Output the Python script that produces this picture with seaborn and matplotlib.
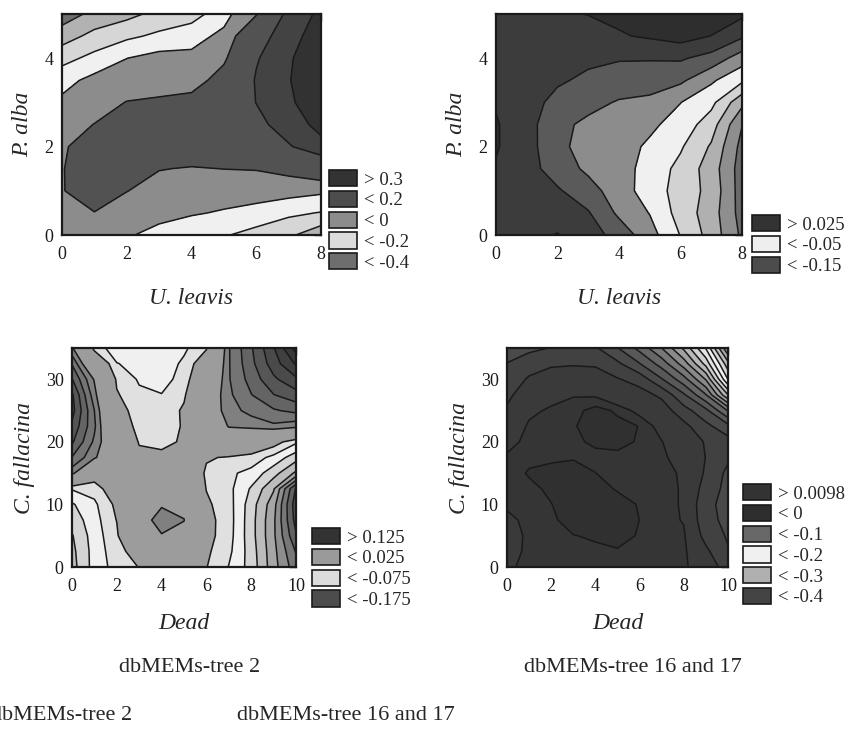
import numpy as np
import matplotlib
matplotlib.use("Agg")
import matplotlib.pyplot as plt
from matplotlib.patches import Patch
from matplotlib.ticker import MultipleLocator
import seaborn as sns

sns.set_theme(style="white")
plt.rcParams["font.family"] = ["Liberation Serif", "DejaVu Serif"]
plt.rcParams["contour.negative_linestyle"] = "solid"

# grid coordinates
ul_x = [0, 1, 2, 3, 4, 5, 6, 7, 8]                       # U. leavis
pa_y = [0, 0.5, 1, 1.5, 2, 2.5, 3, 3.5, 4, 4.5, 5]       # P. alba
dead_x = [0, 1, 2, 3, 4, 5, 6, 7, 8, 9, 10]              # Dead
cf_y = [0, 2.5, 5, 7.5, 10, 12.5, 15, 17.5, 20, 22.5, 25, 27.5, 30, 32.5, 35]  # C. fallacina

# surface values, one list per x column (bottom -> top)
tree2_a = [
    [-0.05, -0.03, -0.01, -0.01, -0.02, -0.04, -0.08, -0.135, -0.235, -0.346, -0.457],
    [-0.06, -0.005, 0.1, 0.12, 0.08, 0.002, -0.04, -0.07, -0.17, -0.27, -0.37],
    [-0.09, -0.04, 0.002, 0.06, 0.1, 0.07, 0.003, -0.05, -0.101, -0.22, -0.33],
    [-0.13, -0.07, -0.03, 0.003, 0.07, 0.08, 0.01, -0.03, -0.065, -0.18, -0.27],
    [-0.17, -0.09, -0.05, -0.005, 0.05, 0.08, 0.04, -0.05, -0.08, -0.13, -0.25],
    [-0.19, -0.11, -0.05, 0.001, 0.06, 0.1, 0.1, 0.05, -0.02, -0.08, -0.13],
    [-0.24, -0.13, -0.06, 0.005, 0.1, 0.17, 0.202, 0.21, 0.19, 0.14, -0.01],
    [-0.28, -0.18, -0.06, 0.03, 0.19, 0.25, 0.285, 0.295, 0.29, 0.27, 0.24],
    [-0.37, -0.205, -0.08, 0.09, 0.27, 0.33, 0.36, 0.37, 0.36, 0.34, 0.32],
]
tree1617_a = [
    [0.018, 0.02, 0.021, 0.023, 0.027, 0.027, 0.023, 0.021, 0.02, 0.02, 0.021],
    [0.02, 0.016, 0.012, 0.01, 0.01, 0.01, 0.012, 0.016, 0.019, 0.021, 0.023],
    [0.026, 0.015, 0.003, -0.012, -0.0186, -0.019, -0.009, 0.004, 0.012, 0.018, 0.023],
    [0.012, 0.002, -0.015, -0.03, -0.035, -0.03, -0.018, -0.006, 0.006, 0.017, 0.0255],
    [-0.01, -0.03, -0.038, -0.039, -0.04, -0.04, -0.027, -0.012, 0.002, 0.023, 0.03],
    [-0.04, -0.051, -0.062, -0.06, -0.054, -0.045, -0.03, -0.015, 0.002, 0.028, 0.034],
    [-0.076, -0.085, -0.085, -0.082, -0.072, -0.06, -0.0495, -0.02, 0.003, 0.035, 0.038],
    [-0.11, -0.113, -0.108, -0.112, -0.103, -0.088, -0.068, -0.046, -0.009, 0.0245, 0.04],
    [-0.155, -0.16, -0.162, -0.162, -0.158, -0.149, -0.118, -0.07, -0.038, 0.004, 0.03],
]
tree2_b = [
    [-0.16, -0.157, -0.152, -0.14, -0.128, -0.098, 0.035, 0.074, 0.104, 0.12, 0.135, 0.13, 0.102, 0.073, 0.03],
    [-0.115, -0.115, -0.113, -0.11, -0.105, -0.09, -0.055, 0.03, 0.045, 0.055, 0.05, 0.035, 0.022, -0.03, -0.085],
    [-0.09, -0.085, -0.08, -0.074, -0.068, -0.05, -0.03, -0.02, -0.02, -0.05, -0.06, -0.072, -0.08, -0.099, -0.115],
    [-0.074, -0.06, 0.0, 0.0, 0.002, -0.035, -0.045, -0.065, -0.078, -0.085, -0.09, -0.095, -0.103, -0.108, -0.11],
    [-0.04, -0.01, 0.022, 0.045, 0.02, -0.01, -0.04, -0.065, -0.085, -0.09, -0.095, -0.099, -0.11, -0.115, -0.118],
    [-0.06, -0.045, 0.012, 0.026, 0.014, -0.02, -0.035, -0.045, -0.07, -0.072, -0.07, -0.08, -0.09, -0.095, -0.105],
    [-0.074, -0.07, -0.065, -0.065, -0.07, -0.076, -0.08, -0.072, -0.05, -0.03, -0.005, -0.01, -0.03, -0.05, -0.078],
    [-0.101, -0.094, -0.09, -0.089, -0.09, -0.093, -0.095, -0.078, -0.02, 0.028, 0.04, 0.045, 0.048, 0.048, 0.048],
    [-0.135, -0.137, -0.14, -0.14, -0.138, -0.128, -0.108, -0.085, -0.04, 0.035, 0.058, 0.074, 0.085, 0.093, 0.097],
    [-0.19, -0.192, -0.195, -0.195, -0.19, -0.172, -0.14, -0.108, -0.06, 0.045, 0.072, 0.099, 0.12, 0.138, 0.148],
    [-0.24, -0.252, -0.272, -0.285, -0.29, -0.278, -0.18, -0.14, -0.095, 0.035, 0.082, 0.115, 0.145, 0.178, 0.21],
]
tree1617_b = [
    [-0.002, -0.004, -0.005, -0.003, 0.002, 0.004, 0.004, 0.002, -0.005, -0.012, -0.022, -0.03, -0.04, -0.0495, -0.058],
    [0.003, 0.002, 0.002, 0.003, 0.005, 0.007, 0.011, 0.007, 0.004, 0.002, -0.003, -0.012, -0.022, -0.036, -0.056],
    [0.004, 0.005, 0.006, 0.008, 0.0095, 0.012, 0.013, 0.008, 0.006, 0.005, 0.002, -0.005, -0.015, -0.028, -0.049],
    [0.005, 0.007, 0.0095, 0.014, 0.016, 0.016, 0.014, 0.009, 0.0085, 0.009, 0.006, -0.001, -0.012, -0.027, -0.045],
    [0.006, 0.008, 0.011, 0.016, 0.017, 0.014, 0.0099, 0.008, 0.011, 0.014, 0.014, -0.002, -0.014, -0.028, -0.047],
    [0.007, 0.009, 0.013, 0.016, 0.014, 0.0088, 0.007, 0.008, 0.012, 0.013, 0.008, -0.015, -0.023, -0.045, -0.074],
    [0.006, 0.007, 0.009, 0.0097, 0.009, 0.007, 0.006, 0.006, 0.009, 0.0095, -0.005, -0.015, -0.035, -0.074, -0.108],
    [0.005, 0.005, 0.005, 0.005, 0.006, 0.006, 0.006, 0.003, 0.0005, -0.006, -0.012, -0.03, -0.073, -0.111, -0.15],
    [0.003, 0.003, 0.002, -0.001, -0.002, -0.002, -0.003, -0.008, -0.01, -0.018, -0.04, -0.071, -0.115, -0.162, -0.205],
    [-0.012, -0.02, -0.033, -0.04, -0.042, -0.035, -0.028, -0.0255, -0.027, -0.043, -0.068, -0.123, -0.177, -0.234, -0.277],
    [-0.035, -0.048, -0.053, -0.058, -0.06, -0.058, -0.056, -0.046, -0.04, -0.067, -0.127, -0.225, -0.301, -0.342, -0.4],
]

# contour levels and grey fills (low -> high)
lev_a = [-0.6, -0.4, -0.3, -0.2, -0.1, 0.0, 0.2, 0.3, 0.5]
grey_a = ["#6e6e6e", "#b2b2b2", "#d6d6d6", "#f0f0f0", "#8c8c8c", "#525252", "#434343", "#323232"]
lev_b = [-0.2, -0.15, -0.125, -0.1, -0.075, -0.05, -0.025, 0.0, 0.025, 0.1]
grey_b = ["#6a6a6a", "#8e8e8e", "#b0b0b0", "#d2d2d2", "#f0f0f0", "#8c8c8c", "#5a5a5a", "#3c3c3c", "#2e2e2e"]
lev_c = [-0.35, -0.275, -0.25, -0.225, -0.2, -0.175, -0.15, -0.125, -0.1, -0.075,
         0.025, 0.05, 0.075, 0.1, 0.125, 0.15, 0.175, 0.2, 0.3]
grey_c = ["#505050", "#626262", "#777777", "#8e8e8e", "#a6a6a6", "#bcbcbc", "#d4d4d4", "#f0f0f0",
          "#e0e0e0", "#9c9c9c", "#808080", "#747474", "#646464", "#565656", "#4a4a4a", "#404040",
          "#383838", "#303030"]
lev_d = [-0.45, -0.4, -0.375, -0.35, -0.325, -0.3, -0.275, -0.25, -0.225, -0.2, -0.175, -0.15,
         -0.125, -0.1, -0.075, -0.05, -0.025, 0.0, 0.0098, 0.05]
grey_d = ["#8a8a8a", "#969696", "#a8a8a8", "#bebebe", "#d6d6d6", "#f2f2f2", "#e6e6e6", "#d0d0d0",
          "#b8b8b8", "#a0a0a0", "#8a8a8a", "#777777", "#666666", "#585858", "#4a4a4a", "#414141",
          "#3a3a3a", "#353535", "#303030"]

# legend entries as printed next to each map
leg_a = ["> 0.3", "< 0.2", "< 0", "< -0.2", "< -0.4"]
leg_a_col = ["#333333", "#4d4d4d", "#8c8c8c", "#dcdcdc", "#6e6e6e"]
leg_b = ["> 0.025", "< -0.05", "< -0.15"]
leg_b_col = ["#333333", "#eeeeee", "#4c4c4c"]
leg_c = ["> 0.125", "< 0.025", "< -0.075", "< -0.175"]
leg_c_col = ["#333333", "#9a9a9a", "#dcdcdc", "#4c4c4c"]
leg_d = ["> 0.0098", "< 0", "< -0.1", "< -0.2", "< -0.3", "< -0.4"]
leg_d_col = ["#333333", "#2e2e2e", "#686868", "#f0f0f0", "#b0b0b0", "#444444"]

W, H = 848, 731
fig = plt.figure(figsize=(W / 100, H / 100), dpi=100)
fig.patch.set_facecolor("white")


def px_box(l, t, r, b):
    return [l / W, 1 - b / H, (r - l) / W, (b - t) / H]


def panel(box, xs, ys, cols, levels, fills, xlab, ylab, xmaj, xmin, ymaj, ymin, xpad):
    ax = fig.add_axes(px_box(*box))
    z = np.array(cols).T
    ax.contourf(xs, ys, z, levels=levels, colors=fills)
    ax.contour(xs, ys, z, levels=levels[1:-1], colors="k", linewidths=1.1,
               linestyles="solid")
    ax.set_xlim(xs[0], xs[-1])
    ax.set_ylim(ys[0], ys[-1])
    ax.xaxis.set_major_locator(MultipleLocator(xmaj))
    ax.xaxis.set_minor_locator(MultipleLocator(xmin))
    ax.yaxis.set_major_locator(MultipleLocator(ymaj))
    ax.yaxis.set_minor_locator(MultipleLocator(ymin))
    ax.tick_params(which="both", direction="in", top=True, right=True, colors="k",
                   labelsize=13, width=1.0)
    ax.tick_params(which="major", length=5)
    ax.tick_params(which="minor", length=3)
    ax.tick_params(axis="x", pad=8)
    ax.tick_params(axis="y", pad=6)
    for s in ax.spines.values():
        s.set_linewidth(1.6)
        s.set_color("k")
    ax.set_xlabel(xlab, fontstyle="italic", fontsize=17, labelpad=xpad)
    ax.set_ylabel(ylab, fontstyle="italic", fontsize=17, labelpad=8)
    return ax


def legend(labels, cols, x, y):
    handles = [Patch(facecolor=c, edgecolor="k", linewidth=1.2) for c in cols]
    fig.legend(handles, labels, loc="upper left", bbox_to_anchor=(x / W, 1 - y / H),
               frameon=False, fontsize=13.5, handlelength=1.5, handleheight=0.95,
               labelspacing=0.12, handletextpad=0.35, borderpad=0, borderaxespad=0)


panel((62, 14, 321, 235), ul_x, pa_y, tree2_a, lev_a, grey_a, "U. leavis", "P. alba",
      2, 0.25, 2, 0.25, 18)
panel((496, 14, 742, 235), ul_x, pa_y, tree1617_a, lev_b, grey_b, "U. leavis", "P. alba",
      2, 0.25, 2, 0.25, 18)
panel((72, 348, 296, 567), dead_x, cf_y, tree2_b, lev_c, grey_c, "Dead", "C. fallacina",
      2, 0.25, 10, 1, 13)
panel((507, 348, 728, 567), dead_x, cf_y, tree1617_b, lev_d, grey_d, "Dead", "C. fallacina",
      2, 0.25, 10, 1, 13)

legend(leg_a, leg_a_col, 329, 170)
legend(leg_b, leg_b_col, 752, 215)
legend(leg_c, leg_c_col, 312, 528)
legend(leg_d, leg_d_col, 743, 484)

fig.text(190 / W, 1 - 668 / H, "dbMEMs-tree 2", ha="center", va="center", fontsize=16)
fig.text(633 / W, 1 - 668 / H, "dbMEMs-tree 16 and 17", ha="center", va="center", fontsize=16)
fig.text(-9 / W, 1 - 716 / H, "dbMEMs-tree 2", ha="left", va="center", fontsize=16)
fig.text(237 / W, 1 - 716 / H, "dbMEMs-tree 16 and 17", ha="left", va="center", fontsize=16)

fig.savefig("out.png", dpi=100, facecolor="white")
